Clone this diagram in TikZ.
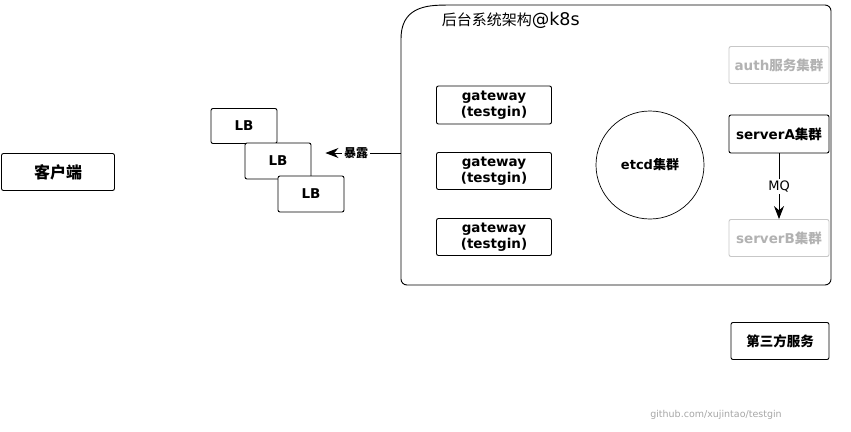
\documentclass[tikz,border=0pt]{standalone}
\usepackage{fontspec}
\setmainfont{DejaVu Sans}
\newfontfamily\cjk{Noto Sans CJK SC}
\usetikzlibrary{positioning,arrows.meta}

\tikzset{
	box/.style={draw, fill=white, rounded corners=2pt, inner sep=0pt, align=center,
		font=\bfseries\fontsize{13.5}{16}\selectfont},
	faded/.style={draw=black!22, text=black!30},
	tip/.style={-{Stealth[length=13pt, width=10pt]}},
}

\begin{document}
\begin{tikzpicture}[x=1pt, y=-1pt, line width=0.9pt]
	\useasboundingbox (0,0) rectangle (851,431);
	
	% client side
	\node[box, minimum width=113pt, minimum height=37pt] (c) at (58,172) {\cjk\fontsize{16}{16}\selectfont 客户端};
	
	\node[box, minimum width=66pt, minimum height=35pt] (lb1) at (244,126) {LB};
	\node[box, minimum width=66pt, minimum height=36pt] (lb2) at (278,161) {LB};
	\node[box, minimum width=66pt, minimum height=36pt] (lb3) at (311,194) {LB};
	
	% k8s cluster
	\draw[rounded corners=6pt] (401,45) .. controls (401,15) and (415,6) .. (445,5)
		-- (831,5) -- (831,285) -- (401,285) -- cycle;
	\coordinate (k8s) at (401,153);
	\node[anchor=west, font=\fontsize{17.5}{17.5}\selectfont] (title) at (438,20) {{\cjk\fontsize{15}{16}\selectfont 后台系统架构}@k8s};
	
	\node[box, minimum width=115pt, minimum height=38pt] (gw1) at (494,105) {gateway\\(testgin)};
	\node[box, minimum width=115pt, minimum height=37pt] (gw2) at (494,171) {gateway\\(testgin)};
	\node[box, minimum width=115pt, minimum height=37pt] (gw3) at (494,237) {gateway\\(testgin)};
	
	\node[circle, draw, line width=0.7pt, minimum size=108pt, inner sep=0pt,
		font=\bfseries\fontsize{13}{15}\selectfont] (etcd) at (650,165) {etcd{\cjk 集群}};
	
	\node[box, faded, minimum width=100pt, minimum height=37pt] (auth) at (779,65) {auth{\cjk 服务集群}};
	\node[box, minimum width=100pt, minimum height=38pt] (sa) at (779,134) {serverA{\cjk 集群}};
	\node[box, faded, minimum width=100pt, minimum height=37pt] (sb) at (779,238) {serverB{\cjk 集群}};
	
	\node[box, minimum width=98pt, minimum height=37pt] (third) at (780,341) {\cjk 第三方服务};
	
	\draw[tip, shorten >=14pt] (k8s) -- node[fill=white, inner sep=2pt,
		font=\cjk\bfseries\fontsize{12}{12}\selectfont] {暴露} (lb2.east |- k8s);
	\draw[tip] (sa) -- node[fill=white, inner sep=2pt,
		font=\fontsize{13}{13}\selectfont] {MQ} (sb);
	
	\node[text=black!35, font=\fontsize{9.5}{9.5}\selectfont] (site) at (716,415) {github.com/xujintao/testgin};
\end{tikzpicture}
\end{document}
